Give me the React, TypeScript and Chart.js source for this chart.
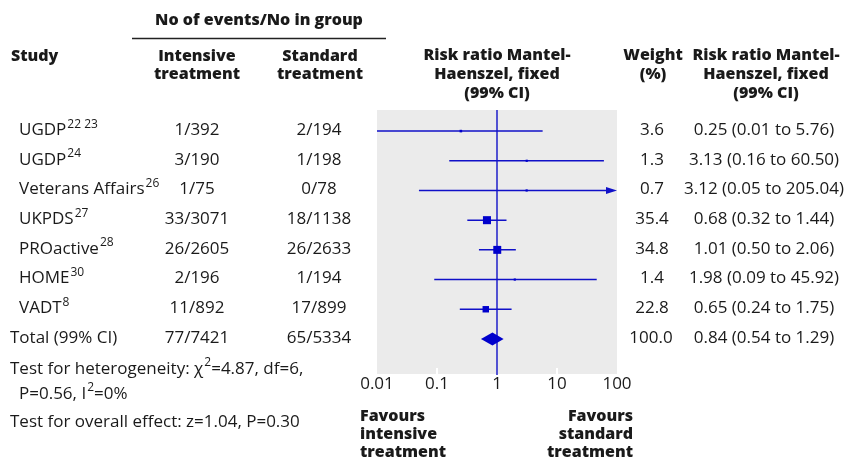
import { useEffect, useRef } from "react";
import { Chart, registerables } from "chart.js";

Chart.register(...registerables);

// ---------- data ----------
const studies = ["UGDP", "UGDP", "Veterans Affairs", "UKPDS", "PROactive", "HOME", "VADT"];
const refs = ["22 23", "24", "26", "27", "28", "30", "8"];
const intensive = ["1/392", "3/190", "1/75", "33/3071", "26/2605", "2/196", "11/892"];
const standard = ["2/194", "1/198", "0/78", "18/1138", "26/2633", "1/194", "17/899"];
const weights = [3.6, 1.3, 0.7, 35.4, 34.8, 1.4, 22.8];
const riskRatio = [0.25, 3.13, 3.12, 0.68, 1.01, 1.98, 0.65];
const lower = [0.01, 0.16, 0.05, 0.32, 0.5, 0.09, 0.24];
const upper = [5.76, 60.5, 205.04, 1.44, 2.06, 45.92, 1.75];

const totalLabel = "Total (99% CI)";
const totalIntensive = "77/7421";
const totalStandard = "65/5334";
const totalWeight = 100.0;
const totalRR = 0.84;
const totalLower = 0.54;
const totalUpper = 1.29;

const xTicks = [0.01, 0.1, 1, 10, 100];
const whiteTicks = [0.1, 10];

// ---------- styles ----------
const FONT = '"Open Sans", "DejaVu Sans", sans-serif';
const BOLD = `800 16px ${FONT}`;
const REG = `17px ${FONT}`;
const SUP = `12px ${FONT}`;
const TEXT = "#1a1a1a";
const BLUE_LINE = "#1010c8";
const BLUE_FILL = "#0000cc";
const GREY = "#ebebeb";

type Part = { t: string; sup?: boolean };

function drawParts(
  ctx: CanvasRenderingContext2D,
  parts: Part[],
  x: number,
  y: number,
  align: "left" | "center" | "right"
) {
  const widths = parts.map((p) => {
    ctx.font = p.sup ? SUP : REG;
    return ctx.measureText(p.t).width + (p.sup ? 1 : 0);
  });
  const total = widths.reduce((a, b) => a + b, 0);
  let cx = align === "left" ? x : align === "center" ? x - total / 2 : x - total;
  ctx.textAlign = "left";
  ctx.textBaseline = "middle";
  parts.forEach((p, i) => {
    ctx.font = p.sup ? SUP : REG;
    ctx.fillText(p.t, cx + (p.sup ? 1 : 0), p.sup ? y - 6 : y);
    cx += widths[i];
  });
}

function lines(
  ctx: CanvasRenderingContext2D,
  text: string[],
  x: number,
  y: number,
  lh: number,
  align: CanvasTextAlign,
  font: string
) {
  ctx.font = font;
  ctx.textAlign = align;
  ctx.textBaseline = "middle";
  text.forEach((t, i) => ctx.fillText(t, x, y + i * lh));
}

const forestPlugin = {
  id: "forest",
  beforeDraw(chart: any) {
    const { ctx, chartArea: a } = chart;
    ctx.save();
    ctx.fillStyle = "#ffffff";
    ctx.fillRect(0, 0, chart.width, chart.height);
    ctx.fillStyle = GREY;
    ctx.fillRect(a.left, a.top, a.right - a.left, a.bottom - a.top);
    ctx.restore();
  },
  beforeDatasetsDraw(chart: any) {
    const { ctx, chartArea: a, scales } = chart;
    const xs = scales.x;
    const ys = scales.y;
    ctx.save();
    // white tick marks inside bottom of plot
    ctx.strokeStyle = "#ffffff";
    ctx.lineWidth = 2;
    whiteTicks.forEach((v) => {
      const px = xs.getPixelForValue(v);
      ctx.beginPath();
      ctx.moveTo(px, a.bottom - 6);
      ctx.lineTo(px, a.bottom);
      ctx.stroke();
    });
    // line of no effect
    ctx.strokeStyle = BLUE_LINE;
    ctx.lineWidth = 1.4;
    const p1 = xs.getPixelForValue(1);
    ctx.beginPath();
    ctx.moveTo(p1, a.top);
    ctx.lineTo(p1, a.bottom + 1);
    ctx.stroke();
    // CI lines
    riskRatio.forEach((_, i) => {
      const y = ys.getPixelForValue(i);
      const x0 = Math.max(a.left, xs.getPixelForValue(lower[i]));
      const rawX1 = xs.getPixelForValue(upper[i]);
      const over = rawX1 > a.right;
      const x1 = Math.min(a.right, rawX1);
      ctx.strokeStyle = BLUE_LINE;
      ctx.lineWidth = 1.5;
      ctx.beginPath();
      ctx.moveTo(x0, y);
      ctx.lineTo(over ? x1 - 8 : x1, y);
      ctx.stroke();
      if (over) {
        ctx.fillStyle = BLUE_LINE;
        ctx.beginPath();
        ctx.moveTo(x1, y);
        ctx.lineTo(x1 - 11, y - 3.5);
        ctx.lineTo(x1 - 11, y + 3.5);
        ctx.closePath();
        ctx.fill();
      }
    });
    // total diamond
    const ty = ys.getPixelForValue(studies.length);
    ctx.fillStyle = BLUE_FILL;
    ctx.beginPath();
    ctx.moveTo(xs.getPixelForValue(totalLower), ty);
    ctx.lineTo(xs.getPixelForValue(totalRR), ty - 6.5);
    ctx.lineTo(xs.getPixelForValue(totalUpper), ty);
    ctx.lineTo(xs.getPixelForValue(totalRR), ty + 6.5);
    ctx.closePath();
    ctx.fill();
    ctx.restore();
  },
  afterDraw(chart: any) {
    const { ctx, chartArea: a, scales } = chart;
    const ys = scales.y;
    ctx.save();
    ctx.fillStyle = TEXT;
    ctx.strokeStyle = "#222";
    // headers
    lines(ctx, ["No of events/No in group"], 259, 20, 18, "center", BOLD);
    ctx.lineWidth = 1.5;
    ctx.beginPath();
    ctx.moveTo(132, 38.5);
    ctx.lineTo(386, 38.5);
    ctx.stroke();
    lines(ctx, ["Study"], 11, 56, 18, "left", BOLD);
    lines(ctx, ["Intensive", "treatment"], 197, 56, 18, "center", BOLD);
    lines(ctx, ["Standard", "treatment"], 320, 56, 18, "center", BOLD);
    const mid = (a.left + a.right) / 2;
    lines(ctx, ["Risk ratio Mantel-", "Haenszel, fixed", "(99% CI)"], mid, 55, 19, "center", BOLD);
    lines(ctx, ["Weight", "(%)"], 653, 55, 19, "center", BOLD);
    lines(ctx, ["Risk ratio Mantel-", "Haenszel, fixed", "(99% CI)"], 766, 55, 19, "center", BOLD);

    // rows
    ctx.fillStyle = TEXT;
    const fmt = (r: number, l: number, u: number) =>
      `${r.toFixed(2)} (${l.toFixed(2)} to ${u.toFixed(2)})`;
    studies.forEach((s, i) => {
      const y = ys.getPixelForValue(i) - 1;
      drawParts(ctx, [{ t: s }, { t: refs[i], sup: true }], 19, y, "left");
      drawParts(ctx, [{ t: intensive[i] }], 197, y, "center");
      drawParts(ctx, [{ t: standard[i] }], 319, y, "center");
      drawParts(ctx, [{ t: weights[i].toFixed(1) }], 652, y, "center");
      drawParts(ctx, [{ t: fmt(riskRatio[i], lower[i], upper[i]) }], 764, y, "center");
    });
    const ty = ys.getPixelForValue(studies.length) - 1;
    drawParts(ctx, [{ t: totalLabel }], 10, ty, "left");
    drawParts(ctx, [{ t: totalIntensive }], 197, ty, "center");
    drawParts(ctx, [{ t: totalStandard }], 319, ty, "center");
    drawParts(ctx, [{ t: totalWeight.toFixed(1) }], 651, ty, "center");
    drawParts(ctx, [{ t: fmt(totalRR, totalLower, totalUpper) }], 764, ty, "center");

    // footnotes
    drawParts(
      ctx,
      [{ t: "Test for heterogeneity: \u03c7" }, { t: "2", sup: true }, { t: "=4.87, df=6," }],
      10,
      369,
      "left"
    );
    drawParts(ctx, [{ t: "P=0.56, I" }, { t: "2", sup: true }, { t: "=0%" }], 19, 394, "left");
    drawParts(ctx, [{ t: "Test for overall effect: z=1.04, P=0.30" }], 10, 422, "left");

    // favours labels
    ctx.fillStyle = TEXT;
    lines(ctx, ["Favours", "intensive", "treatment"], 360, 416, 18, "left", BOLD);
    lines(ctx, ["Favours", "standard", "treatment"], 633, 416, 18, "right", BOLD);
    ctx.restore();
  },
};

export default function App() {
  const ref = useRef<HTMLCanvasElement | null>(null);
  useEffect(() => {
    if (!ref.current) return;
    const side = (w: number) => Math.max(2.2, 1.35 * Math.sqrt(w));
    const chart = new Chart(ref.current, {
      type: "scatter",
      data: {
        datasets: [
          {
            data: riskRatio.map((v, i) => ({ x: v, y: i })),
            pointStyle: "rect",
            pointRadius: weights.map((w) => side(w) / Math.SQRT2),
            pointHoverRadius: weights.map((w) => side(w) / Math.SQRT2),
            backgroundColor: BLUE_FILL,
            borderWidth: 0,
          },
        ],
      },
      options: {
        animation: false,
        responsive: true,
        maintainAspectRatio: false,
        events: [],
        layout: { padding: { left: 377, right: 235, top: 110, bottom: 63 } },
        plugins: { legend: { display: false }, tooltip: { enabled: false } },
        scales: {
          x: {
            type: "logarithmic",
            min: 0.01,
            max: 100,
            afterBuildTicks: (s: any) => {
              s.ticks = xTicks.map((v) => ({ value: v }));
            },
            afterFit: (s: any) => {
              s.height = 22;
            },
            grid: { display: false, drawTicks: false },
            border: { display: false },
            ticks: {
              padding: 0,
              maxRotation: 0,
              autoSkip: false,
              color: TEXT,
              font: { family: FONT, size: 17 },
              callback: (v: any) => String(v),
            },
          },
          y: {
            type: "linear",
            reverse: true,
            min: -0.71,
            max: 8.18,
            display: false,
          },
        },
      },
      plugins: [forestPlugin],
    });
    return () => chart.destroy();
  }, []);
  return (
    <div style={{ position: "absolute", left: 0, top: 0, width: 852, height: 459 }}>
      <canvas ref={ref} />
    </div>
  );
}
